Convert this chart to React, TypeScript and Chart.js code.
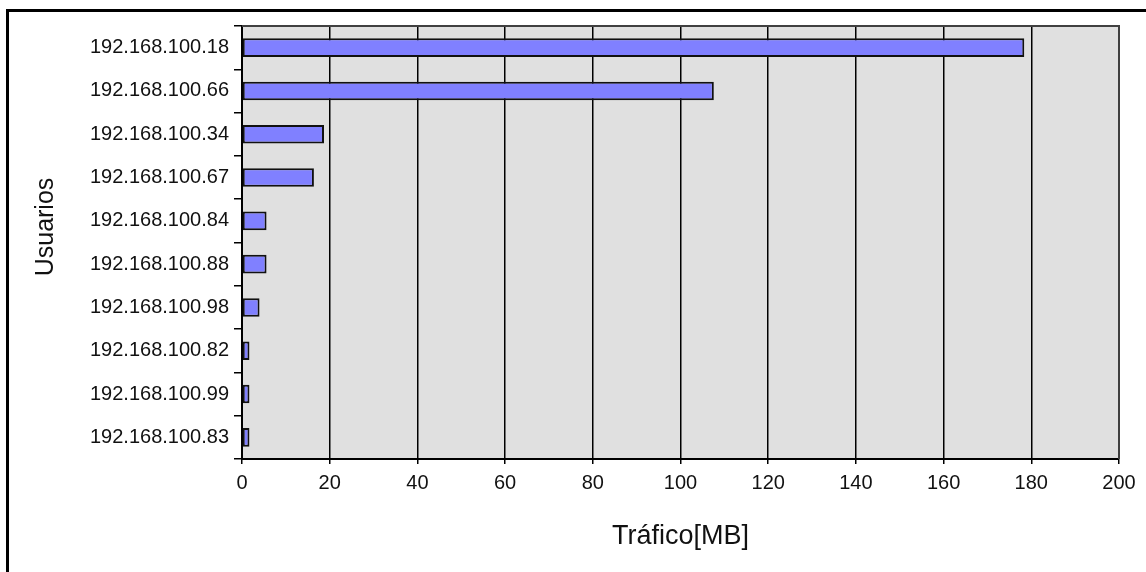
import React, { useEffect, useRef } from "react";
import { Chart, registerables } from "chart.js";

Chart.register(...registerables);

const categories: string[] = [
  "192.168.100.18",
  "192.168.100.66",
  "192.168.100.34",
  "192.168.100.67",
  "192.168.100.84",
  "192.168.100.88",
  "192.168.100.98",
  "192.168.100.82",
  "192.168.100.99",
  "192.168.100.83",
];
const trafficMB: number[] = [178.4, 107.6, 18.7, 16.4, 5.6, 5.6, 4.0, 1.7, 1.7, 1.7];
const xAxisTitle = "Tráfico[MB]";
const yAxisTitle = "Usuarios";
const xMin = 0;
const xMax = 200;
const xStep = 20;

const FONT = "'Liberation Sans', Arial, sans-serif";

const framePlugin = {
  id: "frame",
  beforeDraw(chart: any) {
    const { ctx, chartArea } = chart;
    ctx.save();
    ctx.fillStyle = "#e0e0e0";
    ctx.fillRect(chartArea.left, chartArea.top, chartArea.right - chartArea.left, chartArea.bottom - chartArea.top);
    ctx.restore();
  },
  afterDraw(chart: any) {
    const { ctx, chartArea } = chart;
    ctx.save();
    ctx.strokeStyle = "#404040";
    ctx.lineWidth = 2;
    ctx.beginPath();
    ctx.moveTo(chartArea.left, chartArea.top);
    ctx.lineTo(chartArea.right, chartArea.top);
    ctx.lineTo(chartArea.right, chartArea.bottom);
    ctx.stroke();
    ctx.fillStyle = "#111";
    ctx.textAlign = "center";
    ctx.textBaseline = "middle";
    ctx.font = `27px ${FONT}`;
    ctx.fillText(xAxisTitle, (chartArea.left + chartArea.right) / 2, 537);
    ctx.font = `25px ${FONT}`;
    ctx.translate(46, 227);
    ctx.rotate(-Math.PI / 2);
    ctx.fillText(yAxisTitle, 0, 0);
    ctx.restore();
  },
};

export default function App() {
  const canvasRef = useRef<HTMLCanvasElement | null>(null);

  useEffect(() => {
    document.body.style.margin = "0";
    const canvas = canvasRef.current;
    if (!canvas) return;
    const chart = new Chart(canvas, {
      type: "bar",
      data: {
        labels: categories,
        datasets: [
          {
            data: trafficMB,
            backgroundColor: "#8080ff",
            borderColor: "#111111",
            borderWidth: 2,
            borderSkipped: false,
            barPercentage: 0.43,
            categoryPercentage: 1,
          },
        ],
      },
      options: {
        indexAxis: "y",
        responsive: false,
        animation: false,
        layout: { padding: { left: 0, top: 26, right: 27, bottom: 0 } },
        plugins: {
          legend: { display: false },
          tooltip: { enabled: false },
          title: { display: false },
        },
        scales: {
          x: {
            type: "linear",
            min: xMin,
            max: xMax,
            ticks: {
              stepSize: xStep,
              color: "#111",
              font: { family: FONT, size: 20 },
              padding: 7,
              maxRotation: 0,
            },
            grid: {
              color: "#000",
              lineWidth: 1.5,
              tickLength: 5,
              drawOnChartArea: true,
            },
            border: { color: "#000", width: 2 },
            afterFit: (scale: any) => {
              scale.height = 113;
            },
          },
          y: {
            type: "category",
            ticks: {
              color: "#111",
              font: { family: FONT, size: 20 },
              padding: 5,
            },
            grid: {
              color: "#000",
              lineWidth: 1.5,
              tickLength: 8,
              drawOnChartArea: false,
              offset: true,
            },
            border: { color: "#000", width: 2 },
            afterFit: (scale: any) => {
              scale.width = 242;
            },
          },
        },
      },
      plugins: [framePlugin],
    } as any);
    return () => chart.destroy();
  }, []);

  return (
    <div style={{ position: "relative", width: 1146, height: 572, background: "#fff", overflow: "hidden" }}>
      <div
        style={{
          position: "absolute",
          left: 6,
          top: 9,
          right: -10,
          bottom: -10,
          borderTop: "3px solid #000",
          borderLeft: "3px solid #000",
        }}
      />
      <canvas
        ref={canvasRef}
        width={1146}
        height={572}
        style={{ position: "absolute", left: 0, top: 0, display: "block" }}
      />
    </div>
  );
}
